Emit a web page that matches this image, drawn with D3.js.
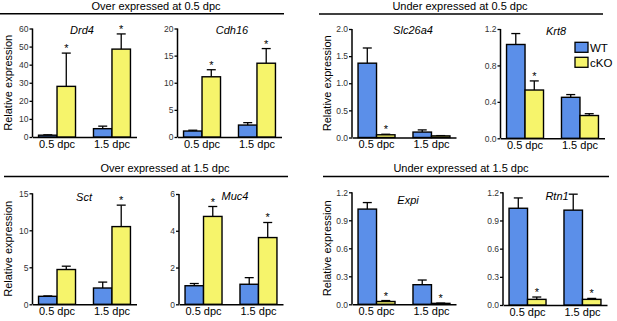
<!DOCTYPE html>
<html>
<head>
<meta charset="utf-8">
<script src="https://cdn.jsdelivr.net/npm/d3@7"></script>
<style>
body { margin: 0; background: #fff; }
svg { font-family: "Liberation Sans", Arial, sans-serif; }
</style>
</head>
<body>
<div id="chart"></div>
<script>
// values (mean, and upper error = SEM)
const stages = ["0.5 dpc", "1.5 dpc"];
const genes = ["Drd4", "Cdh16", "Slc26a4", "Krt8", "Sct", "Muc4", "Expi", "Rtn1"];
const wtMean = [[1.0, 4.6], [1.1, 2.2], [1.37, 0.10], [1.03, 0.45], [1.08, 2.2], [1.01, 1.09], [1.02, 0.21], [1.03, 1.01]];
const wtErr  = [[0.2, 1.4], [0.15, 0.45], [0.28, 0.04], [0.12, 0.03], [0.05, 0.8], [0.12, 0.36], [0.07, 0.05], [0.11, 0.17]];
const koMean = [[28.0, 48.6], [11.1, 13.6], [0.05, 0.03], [0.53, 0.25], [4.7, 10.5], [4.78, 3.63], [0.03, 0.01], [0.06, 0.06]];
const koErr  = [[18.4, 8.4], [1.3, 2.7], [0.01, 0.005], [0.1, 0.02], [0.45, 2.9], [0.54, 0.82], [0.01, 0.003], [0.025, 0.01]];
const koStar = [[1, 1], [1, 1], [1, 0], [1, 0], [0, 1], [1, 1], [1, 1], [1, 1]];
const yTicks = [[0, 10, 20, 30, 40, 50, 60], [0, 5, 10, 15, 20], [0, 0.5, 1, 1.5, 2], [0, 0.4, 0.8, 1.2],
                [0, 5, 10, 15], [0, 2, 4, 6], [0, 0.3, 0.6, 0.9, 1.2], [0, 0.3, 0.6, 0.9, 1.2]];
const tickDigits = [0, 0, 1, 1, 0, 0, 1, 1];
const groups = ["Over expressed at 0.5 dpc", "Under expressed at 0.5 dpc", "Over expressed at 1.5 dpc", "Under expressed at 1.5 dpc"];
const series = ["WT", "cKO"];
const colors = ["#5b8fe9", "#f6f46b"];

// layout of the 8 panels (axis origin + top of y range)
const layout = [
  {x: 32.5, top: 28.5, bot: 137, ylab: true, tx: 82, ty: 34},
  {x: 177.5, top: 28.5, bot: 137, ylab: false, tx: 232, ty: 34},
  {x: 352, top: 29, bot: 137.5, ylab: true, tx: 413, ty: 34},
  {x: 500.5, top: 29, bot: 138.3, ylab: false, tx: 556, ty: 35},
  {x: 32.5, top: 193.3, bot: 304.3, ylab: true, tx: 84, ty: 201},
  {x: 179, top: 194, bot: 304.3, ylab: false, tx: 235, ty: 200},
  {x: 352, top: 192.3, bot: 304.3, ylab: true, tx: 408, ty: 204},
  {x: 503, top: 192.3, bot: 305, ylab: false, tx: 557, ty: 200}
];
const headers = [
  {cx: 156, ty: 10, x1: 0, x2: 284, ly: 13.7},
  {cx: 460, ty: 10, x1: 319, x2: 603, ly: 14},
  {cx: 165, ty: 171.5, x1: 4, x2: 288, ly: 176.5},
  {cx: 461, ty: 171.5, x1: 323, x2: 609, ly: 176.5}
];
const W = 104;

const svg = d3.select("#chart").append("svg")
    .attr("width", 617)
    .attr("height", 321);

headers.forEach((h, i) => {
  svg.append("text")
      .attr("x", h.cx).attr("y", h.ty)
      .attr("text-anchor", "middle")
      .attr("font-size", 11)
      .text(groups[i]);
  svg.append("line")
      .attr("x1", h.x1).attr("x2", h.x2)
      .attr("y1", h.ly).attr("y2", h.ly)
      .attr("stroke", "#000").attr("stroke-width", 1.5);
});

genes.forEach((gene, gi) => {
  const L = layout[gi];
  const g = svg.append("g").attr("transform", `translate(${L.x},0)`);

  const x0 = d3.scaleBand().domain(stages).range([0, W]).paddingInner(0.327).paddingOuter(0.11);
  const x1 = d3.scaleBand().domain(series).range([0, x0.bandwidth()]);
  const yMax = d3.max(yTicks[gi]);
  const y = d3.scaleLinear().domain([0, yMax]).range([L.bot, L.top]);

  const yAxis = g.append("g")
      .call(d3.axisLeft(y).tickValues(yTicks[gi]).tickSize(3).tickPadding(1)
        .tickFormat(d3.format(`.${tickDigits[gi]}f`)));
  yAxis.select(".domain").attr("stroke-width", 1.5).attr("d", `M0,${L.bot}V${L.top}`);
  yAxis.selectAll(".tick line").attr("stroke-width", 1.3);
  yAxis.selectAll(".tick text").attr("font-size", 8.5).attr("fill", "#333")
      .attr("font-family", "Liberation Sans, Arial, sans-serif");

  const xAxis = g.append("g")
      .attr("transform", `translate(0,${L.bot})`)
      .call(d3.axisBottom(x0).tickSize(0).tickPadding(3));
  xAxis.select(".domain").attr("stroke-width", 1.5);
  xAxis.selectAll(".tick text").attr("font-size", 11).attr("fill", "#000")
      .attr("font-family", "Liberation Sans, Arial, sans-serif");

  const rows = [];
  stages.forEach((s, si) => {
    rows.push({stage: s, key: "WT", ci: 0, m: wtMean[gi][si], e: wtErr[gi][si], star: 0});
    rows.push({stage: s, key: "cKO", ci: 1, m: koMean[gi][si], e: koErr[gi][si], star: koStar[gi][si]});
  });
  const cx = d => x0(d.stage) + x1(d.key) + x1.bandwidth() / 2;

  // error bars (upper only)
  g.selectAll("line.err").data(rows).join("line")
      .attr("class", "err")
      .attr("x1", cx).attr("x2", cx)
      .attr("y1", d => y(d.m)).attr("y2", d => y(d.m + d.e))
      .attr("stroke", "#000").attr("stroke-width", 1.3);
  g.selectAll("line.cap").data(rows).join("line")
      .attr("class", "cap")
      .attr("x1", d => cx(d) - 4.5).attr("x2", d => cx(d) + 4.5)
      .attr("y1", d => y(d.m + d.e)).attr("y2", d => y(d.m + d.e))
      .attr("stroke", "#000").attr("stroke-width", 1.3);

  g.selectAll("rect.bar").data(rows).join("rect")
      .attr("class", "bar")
      .attr("x", d => x0(d.stage) + x1(d.key))
      .attr("y", d => y(d.m))
      .attr("width", x1.bandwidth())
      .attr("height", d => y(0) - y(d.m))
      .attr("fill", d => colors[d.ci])
      .attr("stroke", "#000").attr("stroke-width", 1.4);

  g.selectAll("text.star").data(rows.filter(d => d.star)).join("text")
      .attr("class", "star")
      .attr("x", cx)
      .attr("y", d => y(d.m + d.e) - 1)
      .attr("text-anchor", "middle")
      .attr("font-size", 11)
      .text("*");

  svg.append("text")
      .attr("x", L.tx).attr("y", L.ty)
      .attr("text-anchor", "middle")
      .attr("font-size", 11)
      .attr("font-style", "italic")
      .text(gene);

  if (L.ylab) {
    svg.append("text")
        .attr("transform", `translate(${L.x - 21},${(L.top + L.bot) / 2}) rotate(-90)`)
        .attr("text-anchor", "middle")
        .attr("font-size", 11)
        .text("Relative expression");
  }
});

// legend inside the Krt8 panel
const legend = svg.append("g");
series.forEach((s, i) => {
  legend.append("rect")
      .attr("x", 575).attr("y", 42.3 + i * 15)
      .attr("width", 13).attr("height", 10)
      .attr("fill", colors[i])
      .attr("stroke", "#000").attr("stroke-width", 1.3);
  legend.append("text")
      .attr("x", 590).attr("y", 51.5 + i * 15)
      .attr("font-size", 11.5)
      .text(s);
});
</script>
</body>
</html>
